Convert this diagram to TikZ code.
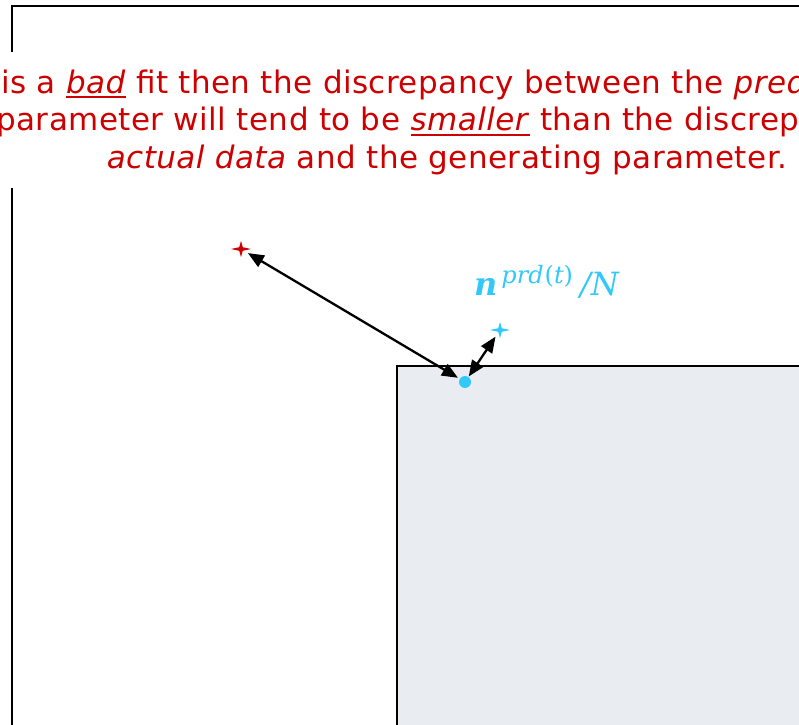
\documentclass[tikz,border=0pt]{standalone}
\usepackage{fontspec}
\setmainfont{DejaVu Sans}[LetterSpace=1.5]
\newfontfamily\labelfont{DejaVu Serif}
\usetikzlibrary{
    arrows.meta,
    positioning
}
\definecolor{ink}{RGB}{0,0,0}
\definecolor{claimred}{RGB}{204,0,0}
\definecolor{predblue}{RGB}{51,200,250}
\definecolor{panelfill}{RGB}{233,237,241}
\newsavebox\stressbox
\newcommand\stress[1]{%
    \sbox\stressbox{\textit{#1}}%
    \leavevmode\rlap{\rule[-5pt]{\wd\stressbox}{1.8pt}}\usebox\stressbox}
\tikzset{
    x=1pt,
    y=-1pt,
    line cap=butt,
    frame/.style={
        draw=ink,
        line width=2pt
    },
    panel/.style={
        draw=ink,
        fill=panelfill,
        line width=1.2pt
    },
    claim/.style={
        anchor=base west,
        inner sep=0pt,
        text=claimred,
        font=\fontsize{31}{38}\selectfont
    },
    dot/.style={
        circle,
        fill=predblue,
        inner sep=0pt,
        minimum size=12pt
    },
    mathlabel/.style={
        anchor=base west,
        inner sep=0pt,
        text=predblue,
        font=\labelfont\fontsize{32}{38}\selectfont
    },
    gap/.style={
        <->,
        >={Triangle[length=16pt,width=13pt]},
        draw=ink,
        line width=2.3pt
    },
    pics/sparkle/.style={
        code={
            \fill[#1] (-10,0) -- (-1.8,-1.8) -- (0,-8) -- (1.8,-1.8) -- (10,0)
                -- (1.8,1.8) -- (0,8) -- (-1.8,1.8) -- cycle;
        }
    }
}

\begin{document}
\begin{tikzpicture}
\useasboundingbox (0,0) rectangle (799,724);
\clip (0,0) rectangle (799,724);

% slide frame, broken where the text box sits
\draw[frame] (12,52) -- (12,6) -- (820,6);
\draw[frame] (12,188) -- (12,740);

\node[claim] (line1) at (1,93)
    {is a \stress{bad} fit then the discrepancy between the \textit{pred}};
\node[claim] (line2) at (-4,130.5)
    {parameter will tend to be \stress{smaller} than the discrep};
\node[claim, anchor=base] (line3) at (447,168)
    {\textit{actual data} and the generating parameter.};

\draw[panel] (397,366) rectangle (830,760);

\coordinate (redstar) at (241,249);
\coordinate (bluestar) at (500,330);
\pic at (redstar) {sparkle=claimred};
\pic at (bluestar) {sparkle=predblue};

\node[dot] (pred) at (465,382) {};
\node[mathlabel] (predlabel) at (474,295)
    {\textbf{\textit{n}}\hspace{4pt}\raisebox{12pt}{\fontsize{24}{24}\selectfont\textit{prd}\hspace{1pt}(\textit{t})}\hspace{7pt}\textit{/N}};

\draw[gap, shorten <=8pt, shorten >=2pt] (redstar) -- (pred);
\draw[gap, shorten <=0.5pt, shorten >=8pt] (pred) -- (bluestar);

\end{tikzpicture}
\end{document}
